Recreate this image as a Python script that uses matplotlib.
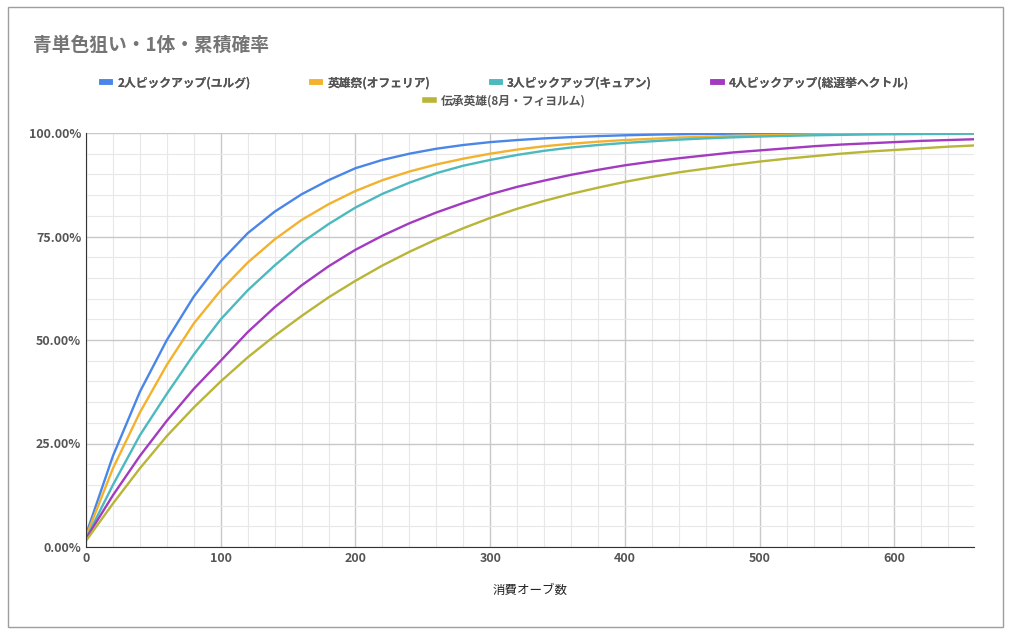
import matplotlib
matplotlib.use("Agg")
import matplotlib.pyplot as plt
from matplotlib.ticker import MultipleLocator, FuncFormatter
from matplotlib.patches import Rectangle

plt.rcParams["font.family"] = ["Noto Sans CJK JP"]

orbs = list(range(0, 661, 20))
s_yulg = [3,22,37.5,50,60.5,69,75.8,81,85.2,88.6,91.5,93.5,95,96.2,97.1,97.8,98.3,98.7,99,99.25,99.45,99.6,99.7,99.77,99.83,99.87,99.9,99.92,99.94,99.95,99.96,99.97,99.98,99.98]
s_ophelia = [2.5,19,32.5,44,54,62,68.7,74.3,79,82.8,86,88.6,90.7,92.4,93.8,95,96,96.8,97.4,97.9,98.3,98.6,98.9,99.1,99.3,99.45,99.55,99.65,99.72,99.78,99.82,99.86,99.89,99.91]
s_kyuan = [2,15,27,37,46.5,55,62,68,73.5,78,82,85.3,88,90.3,92.1,93.5,94.7,95.7,96.5,97.1,97.6,98,98.4,98.7,98.95,99.15,99.3,99.45,99.55,99.65,99.7,99.75,99.8,99.85]
s_hector = [2,12.5,22,30.5,38.2,45,51.9,57.9,63.2,67.8,71.8,75.2,78.2,80.8,83.1,85.2,87,88.5,89.9,91.1,92.2,93.1,93.9,94.6,95.3,95.8,96.3,96.8,97.2,97.5,97.8,98.1,98.3,98.5]
s_fjorm = [1.5,10.5,19,26.8,33.7,40,45.8,51,55.8,60.3,64.3,68,71.3,74.3,77,79.5,81.7,83.6,85.3,86.8,88.2,89.4,90.5,91.4,92.3,93.1,93.8,94.4,95,95.5,95.9,96.3,96.7,97]

names = ["2人ピックアップ(ユルグ)", "英雄祭(オフェリア)", "3人ピックアップ(キュアン)",
         "4人ピックアップ(総選挙ヘクトル)", "伝承英雄(8月・フィヨルム)"]
series = [s_yulg, s_ophelia, s_kyuan, s_hector, s_fjorm]
colors = ["#4a86e8", "#f3b22e", "#4bb9be", "#a23bbf", "#b8b537"]

fig = plt.figure(figsize=(10.11, 6.34), dpi=100)
fig.patches.append(Rectangle((8/1011, 7/634), 995/1011, 620/634, transform=fig.transFigure,
                             fill=False, edgecolor="#9e9e9e", linewidth=1))
ax = fig.add_axes([86/1011, 1-547/634, 888/1011, 414/634])
lines = []
for s, c, n in zip(series, colors, names):
    l, = ax.plot(orbs, s, color=c, linewidth=1.7, label=n)
    lines.append(l)

ax.set_xlim(0, 659)
ax.set_ylim(0, 100)
ax.xaxis.set_major_locator(MultipleLocator(100))
ax.xaxis.set_minor_locator(MultipleLocator(20))
ax.yaxis.set_major_locator(MultipleLocator(25))
ax.yaxis.set_minor_locator(MultipleLocator(5))
ax.yaxis.set_major_formatter(FuncFormatter(lambda v, p: f"{v:.2f}%"))
ax.grid(which="major", color="#c8c8c8", linewidth=1)
ax.grid(which="minor", color="#e8e8e8", linewidth=0.8)
ax.set_axisbelow(True)
for sp in ["top", "right"]:
    ax.spines[sp].set_visible(False)
for sp in ["left", "bottom"]:
    ax.spines[sp].set_color("#333333")
ax.tick_params(which="both", length=0, labelsize=9, labelcolor="#555555")
for t in ax.get_xticklabels() + ax.get_yticklabels():
    t.set_fontweight("bold")
ax.set_xlabel("消費オーブ数", fontsize=9, color="#222222", labelpad=14)

fig.text(33/1011, 1-45/634, "青単色狙い・1体・累積確率", fontsize=13.5, fontweight="bold",
         color="#757575", va="center")

leg1 = fig.legend(lines[:4], names[:4], loc="center", bbox_to_anchor=(0.5, 1-83/634), ncol=4,
                  frameon=False, fontsize=8.5, handlelength=0.7, handletextpad=0.6, columnspacing=5.2)
for l in leg1.get_lines():
    l.set_linewidth(4)
fig.add_artist(leg1)
leg2 = fig.legend(lines[4:], names[4:], loc="center", bbox_to_anchor=(0.5, 1-101/634),
                  frameon=False, fontsize=8.5, handlelength=0.7, handletextpad=0.6)
for l in leg2.get_lines():
    l.set_linewidth(4)
for leg in (leg1, leg2):
    for t in leg.get_texts():
        t.set_color("#555555")
        t.set_fontweight("bold")

fig.savefig("out.png", dpi=100)
